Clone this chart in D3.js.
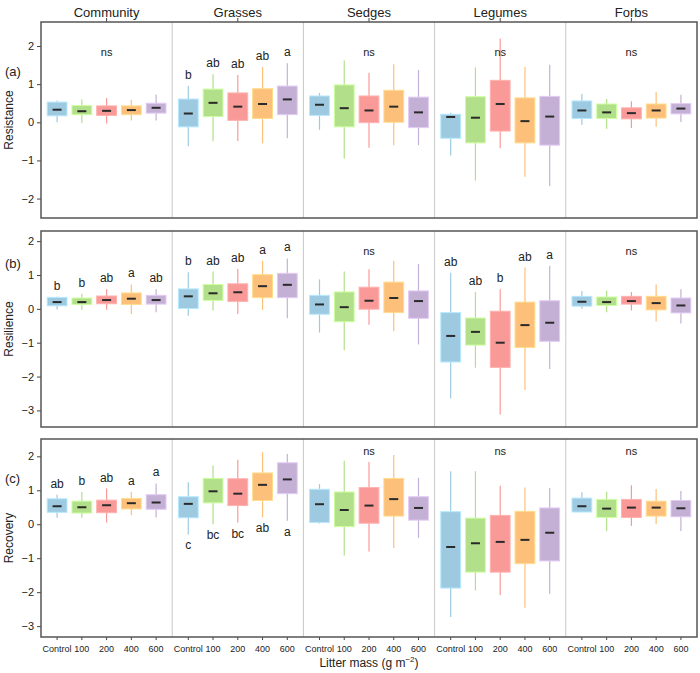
<!DOCTYPE html>
<html><head><meta charset="utf-8">
<script src="https://cdn.jsdelivr.net/npm/d3@7"></script>
<style>body{margin:0;background:#fff}text{font-family:Arial,"Liberation Sans",sans-serif}</style>
</head><body><svg id="chart" width="700" height="673"></svg>
<script>
var groups = ["Community", "Grasses", "Sedges", "Legumes", "Forbs"];
var treatments = ["Control", "100", "200", "400", "600"];
var colours = ["#9ecae1", "#b2df8a", "#f99a98", "#fdc07a", "#c5b0d5"];

// [low whisker, q1, median, q3, high whisker] per group, per treatment
var resistance = [
  [[0,.17,.33,.53,.57],[-.02,.2,.29,.44,.6],[-.03,.18,.3,.43,.64],[.05,.2,.32,.43,.59],[.05,.24,.38,.5,.73]],
  [[-.63,-.12,.23,.61,.95],[-.5,.15,.51,.87,1.26],[-.49,.05,.41,.77,1.24],[-.55,.1,.48,.88,1.45],[-.42,.2,.6,.95,1.55]],
  [[-.2,.18,.46,.69,.77],[-.95,-.12,.37,.98,1.62],[-.67,-.01,.31,.69,1.3],[-.6,0,.41,.84,1.52],[-.6,-.14,.26,.66,1.37]],
  [[-.87,-.42,.14,.21,.25],[-1.53,-.54,.12,.67,1.44],[-.68,-.23,.48,1.1,2.2],[-1.43,-.54,.03,.64,1.45],[-1.67,-.6,.15,.68,1.51]],
  [[-.07,.1,.31,.56,.74],[-.17,.1,.26,.48,.61],[-.15,.09,.24,.38,.55],[-.12,.11,.31,.48,.8],[.01,.22,.36,.49,.72]]
];
var resilience = [
  [[-.02,.09,.2,.34,.36],[-.03,.13,.2,.32,.45],[-.03,.15,.26,.38,.58],[-.15,.13,.3,.47,.72],[-.1,.14,.26,.4,.58]],
  [[-.2,.01,.37,.59,1.08],[-.05,.25,.46,.72,1.1],[-.15,.22,.49,.74,1.18],[-.03,.33,.67,1.01,1.42],[-.28,.33,.71,1.05,1.49]],
  [[-.7,-.16,.13,.4,.87],[-1.22,-.38,.05,.5,1.1],[-.47,-.01,.24,.64,1.17],[-.66,-.11,.32,.79,1.42],[-1.05,-.28,.23,.53,1.33]],
  [[-2.65,-1.57,-.8,-.11,1.07],[-1.74,-1.07,-.68,-.27,.5],[-3.12,-1.73,-1,-.07,.58],[-2.4,-1.14,-.48,.2,1.22],[-1.78,-.96,-.41,.24,1.27]],
  [[0,.08,.21,.37,.53],[-.1,.1,.2,.35,.54],[-.05,.14,.23,.37,.5],[-.37,-.03,.17,.37,.72],[-.43,-.12,.1,.32,.58]]
];
var recovery = [
  [[.19,.35,.53,.75,.87],[.19,.33,.5,.68,.95],[.05,.34,.56,.71,1.05],[.27,.45,.62,.76,.96],[.2,.44,.64,.87,1.2]],
  [[-.3,.19,.6,.81,1.24],[0,.63,.97,1.35,1.73],[.05,.55,.9,1.34,1.9],[.2,.7,1.16,1.51,2.12],[.1,.9,1.32,1.81,2.07]],
  [[.02,.05,.59,1.03,1.18],[-.92,-.07,.42,.95,1.87],[-.8,.03,.55,1.08,1.83],[-.7,.24,.74,1.35,2.04],[-.4,.12,.48,.81,1.37]],
  [[-2.73,-1.88,-.67,.37,1.56],[-1.95,-1.41,-.56,.18,1.56],[-2.08,-1.41,-.52,.26,1.13],[-2.46,-1.16,-.46,.38,1.08],[-2.05,-1.08,-.25,.48,1.07]],
  [[.35,.36,.53,.77,.94],[-.2,.2,.46,.73,.96],[-.05,.2,.49,.73,1.15],[0,.24,.49,.68,1.04],[-.2,.22,.47,.7,.98]]
];

// significance letters: null = "ns" for the group
var lettersA = [null, ["b","ab","ab","ab","a"], null, null, null];
var lettersB = [["b","b","ab","a","ab"], ["b","ab","ab","a","a"], null, ["ab","ab","b","ab","a"], null];
var lettersC = [["ab","b","ab","a","a"], ["c","bc","bc","ab","a"], null, null, null];

var panels = [
  {tag:"(a)", name:"Resistance", data:resistance, letters:lettersA, below:[], top:22, bottom:218, domain:[-2.51,2.63], ticks:[-2,-1,0,1,2], ns:1.85},
  {tag:"(b)", name:"Resilience", data:resilience, letters:lettersB, below:[], top:231, bottom:427, domain:[-3.49,2.3], ticks:[-3,-2,-1,0,1,2], ns:1.7},
  {tag:"(c)", name:"Recovery", data:recovery, letters:lettersC, below:[1], top:439, bottom:637, domain:[-3.32,2.51], ticks:[-3,-2,-1,0,1,2], ns:2.15}
];

var svg = d3.select("#chart");
var left = 41, right = 697;

var xGroup = d3.scaleBand().domain(groups).range([left, right]);
var xBox = d3.scaleBand().domain(treatments).range([0, xGroup.bandwidth()]).paddingInner(0.2).paddingOuter(0.25);

// strip titles
svg.selectAll(".strip").data(groups).enter().append("text")
  .attr("x", function(d) { return xGroup(d) + xGroup.bandwidth() / 2; })
  .attr("y", 17).attr("text-anchor", "middle").attr("font-size", 13).attr("fill", "#222")
  .text(function(d) { return d; });

panels.forEach(function(p, pi) {
  var y = d3.scaleLinear().domain(p.domain).range([p.bottom, p.top]);
  var g = svg.append("g");

  // group dividers
  g.selectAll(".div").data(groups.slice(1)).enter().append("line")
    .attr("x1", function(d) { return xGroup(d); }).attr("x2", function(d) { return xGroup(d); })
    .attr("y1", p.top).attr("y2", p.bottom).attr("stroke", "#c8c8c8").attr("stroke-width", 1);

  // y axis
  var ax = g.append("g").attr("transform", "translate(" + left + ",0)")
    .call(d3.axisLeft(y).tickValues(p.ticks).tickSize(4).tickFormat(function(d) { return d < 0 ? "\u2212" + (-d) : d; }));
  ax.select(".domain").remove();
  ax.selectAll("text").attr("font-size", 11).attr("fill", "#222").attr("font-family", "Arial,Liberation Sans,sans-serif");
  ax.selectAll("line").attr("stroke", "#444");

  g.append("text").attr("transform", "translate(13," + ((p.top + p.bottom) / 2) + ") rotate(-90)")
    .attr("text-anchor", "middle").attr("font-size", 12).attr("fill", "#222").text(p.name);
  g.append("text").attr("x", 5).attr("y", y(1.35) + 5).attr("font-size", 13).attr("fill", "#222").text(p.tag);

  groups.forEach(function(gr, gi) {
    var gx = xGroup(gr);
    var boxes = g.append("g").selectAll("g").data(p.data[gi]).enter().append("g")
      .attr("transform", function(d, i) { return "translate(" + (gx + xBox(treatments[i])) + ",0)"; });
    var w = xBox.bandwidth(), c = w / 2;
    boxes.append("line").attr("x1", c).attr("x2", c)
      .attr("y1", function(d) { return y(d[0]); }).attr("y2", function(d) { return y(d[4]); })
      .attr("stroke", function(d, i) { return colours[i]; }).attr("stroke-width", 1.2);
    boxes.append("rect").attr("x", 0).attr("width", w)
      .attr("y", function(d) { return y(d[3]); })
      .attr("height", function(d) { return y(d[1]) - y(d[3]); })
      .attr("fill", function(d, i) { return colours[i]; })
      .attr("stroke", function(d, i) { return d3.color(colours[i]).brighter(0.4); })
      .attr("stroke-width", 1);
    boxes.append("line").attr("x1", c - 4.5).attr("x2", c + 4.5)
      .attr("y1", function(d) { return y(d[2]); }).attr("y2", function(d) { return y(d[2]); })
      .attr("stroke", "#2a2a2a").attr("stroke-width", 2);

    var lt = p.letters[gi];
    if (lt === null) {
      g.append("text").attr("x", gx + xGroup.bandwidth() / 2).attr("y", y(p.ns) + 4)
        .attr("text-anchor", "middle").attr("font-size", 11).attr("fill", "#222").text("ns");
    } else {
      var below = p.below.indexOf(gi) >= 0;
      boxes.append("text").attr("x", c).attr("text-anchor", "middle").attr("font-size", 12).attr("fill", "#222")
        .attr("y", function(d) { return below ? y(d[0]) + 15 : y(d[4]) - 7; })
        .text(function(d, i) { return lt[i]; });
    }
  });

  // top ticks at group centres for first panel
  if (pi === 0) {
    g.selectAll(".tt").data(groups).enter().append("line")
      .attr("x1", function(d) { return xGroup(d) + xGroup.bandwidth() / 2; })
      .attr("x2", function(d) { return xGroup(d) + xGroup.bandwidth() / 2; })
      .attr("y1", p.top - 4).attr("y2", p.top).attr("stroke", "#444");
  }
  if (pi === panels.length - 1) {
    groups.forEach(function(gr) {
      var xa = g.append("g").attr("transform", "translate(" + xGroup(gr) + "," + p.bottom + ")")
        .call(d3.axisBottom(xBox).tickSize(3));
      xa.select(".domain").remove();
      xa.selectAll("text").attr("font-size", 9).attr("fill", "#222").attr("font-family", "Arial,Liberation Sans,sans-serif").attr("dy", "1em");
      xa.selectAll("line").attr("stroke", "#444");
    });
  }

  g.append("rect").attr("x", left).attr("y", p.top).attr("width", right - left).attr("height", p.bottom - p.top)
    .attr("fill", "none").attr("stroke", "#555").attr("stroke-width", 1.5);
});

var xt = svg.append("text").attr("x", (left + right) / 2).attr("y", 667).attr("text-anchor", "middle")
  .attr("font-size", 12).attr("fill", "#222");
xt.append("tspan").text("Litter mass (g m");
xt.append("tspan").attr("dy", -5).attr("font-size", 8).text("\u22122");
xt.append("tspan").attr("dy", 5).text(")");
</script></body></html>
